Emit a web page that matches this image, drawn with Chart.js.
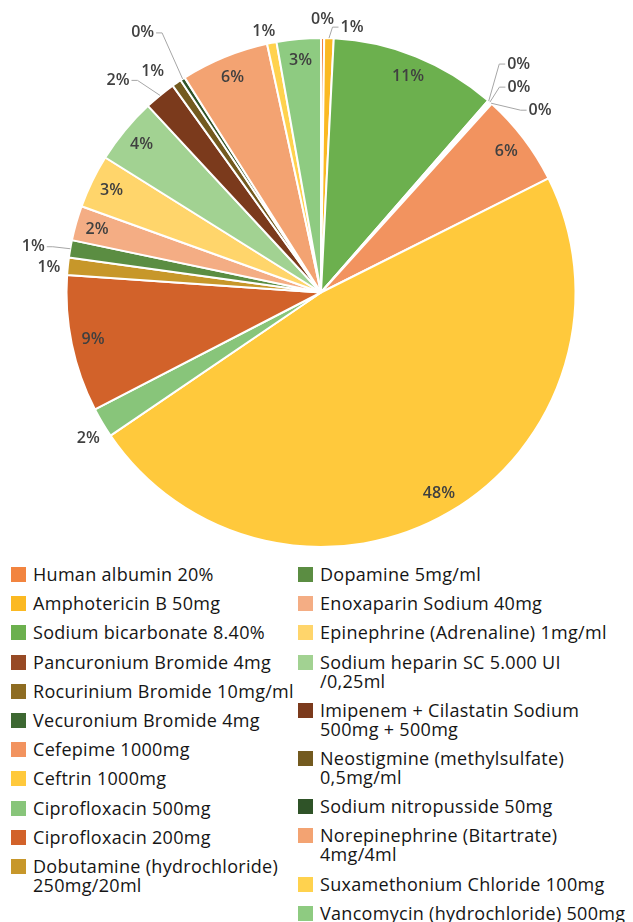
<!DOCTYPE html>
<html>
<head>
<meta charset="utf-8">
<title>Medication share</title>
<script src="https://cdn.jsdelivr.net/npm/chart.js@4.4.0/dist/chart.umd.min.js"></script>
<style>
    html, body { margin: 0; padding: 0; background: #fff; }
    #page { position: relative; width: 633px; height: 922px; overflow: hidden; }
    #chartBox { position: absolute; left: 0; top: 0; width: 633px; height: 556px; }
    .legend-col {
        position: absolute;
        top: 565px;
        font-family: "Open Sans", sans-serif;
        font-size: 18px;
        letter-spacing: 0.3px;
        line-height: 19px;
        color: #151515;
        white-space: nowrap;
    }
    .legend-item { display: flex; align-items: flex-start; margin-bottom: 10.2px; }
    .swatch { width: 15px; height: 15px; flex: none; margin-top: 2px; margin-right: 7px; }
</style>
</head>
<body>
<div id="page">
    <div id="chartBox"><canvas id="pieChart"></canvas></div>
    <div id="legendLeft" class="legend-col" style="left:11px"></div>
    <div id="legendRight" class="legend-col" style="left:298px"></div>
</div>
<script>
// Share of each medication (%)
const categories = [
    'Human albumin 20%',
    'Amphotericin B 50mg',
    'Sodium bicarbonate 8.40%',
    'Pancuronium Bromide 4mg',
    'Rocurinium Bromide 10mg/ml',
    'Vecuronium Bromide 4mg',
    'Cefepime 1000mg',
    'Ceftrin 1000mg',
    'Ciprofloxacin 500mg',
    'Ciprofloxacin 200mg',
    ['Dobutamine (hydrochloride)', '250mg/20ml'],
    'Dopamine 5mg/ml',
    'Enoxaparin Sodium 40mg',
    'Epinephrine (Adrenaline) 1mg/ml',
    ['Sodium heparin SC 5.000 UI', '/0,25ml'],
    ['Imipenem + Cilastatin Sodium', '500mg + 500mg'],
    ['Neostigmine (methylsulfate)', '0,5mg/ml'],
    'Sodium nitropusside 50mg',
    ['Norepinephrine (Bitartrate)', '4mg/4ml'],
    'Suxamethonium Chloride 100mg',
    'Vancomycin (hydrochloride) 500mg'
];

const shares = [0.2, 0.6, 10.6, 0.1, 0.1, 0.1, 5.9, 47.9, 1.9, 8.7, 1.1,
                1.1, 2.2, 3.4, 4.2, 2.0, 0.6, 0.3, 5.6, 0.6, 2.8];

const sliceColors = [
    '#F2843F', '#FBB922', '#6CB04E', '#974A25', '#8E6C22', '#3D6832',
    '#F2935F', '#FFC93C', '#88C57A', '#D2622A', '#C7972A',
    '#5B8D42', '#F4AD84', '#FFD56B', '#A2D292', '#7B3A1C', '#735A1F',
    '#2F5328', '#F3A372', '#FFD24E', '#8ECB81'
];

// where each percent label goes: inside the slice, or pushed out from the rim (px)
const labelPlacement = [
    { out: [0, -19] },
    { out: [23, -11], line: true },
    { in: true },
    { out: [30, -37], line: true },
    { out: [29, -15], line: true },
    { out: [49, 7], line: true },
    { in: true },
    { in: true },
    { out: [-14, 16] },
    { in: true },
    { out: [-19, 1] },
    { out: [-37, -2], line: true },
    { in: true },
    { in: true },
    { in: true },
    { out: [-42, -15], line: true },
    { out: [-24, -11] },
    { out: [-40, -46], line: true },
    { in: true },
    { out: [-8, -11] },
    { in: true }
];

// Draw percent labels and leader lines
const sliceLabels = {
    id: 'sliceLabels',
    afterDatasetsDraw(chart) {
        const ctx = chart.ctx;
        const meta = chart.getDatasetMeta(0);
        const total = shares.reduce((a, b) => a + b, 0);

        ctx.save();
        ctx.font = '600 16px "Open Sans"';
        ctx.fillStyle = '#404040';
        ctx.textAlign = 'center';
        ctx.textBaseline = 'middle';

        meta.data.forEach((arc, i) => {
            const p = arc.getProps(['x', 'y', 'startAngle', 'endAngle', 'outerRadius'], true);
            const mid = (p.startAngle + p.endAngle) / 2;
            const text = Math.round(shares[i] / total * 100) + '%';
            const place = labelPlacement[i];

            if (place.in) {
                const r = p.outerRadius * 0.915;
                ctx.fillText(text, p.x + Math.cos(mid) * r, p.y + Math.sin(mid) * r);
                return;
            }

            const ax = p.x + Math.cos(mid) * p.outerRadius;
            const ay = p.y + Math.sin(mid) * p.outerRadius;
            const lx = ax + place.out[0];
            const ly = ay + place.out[1];

            if (place.line) {
                const half = ctx.measureText(text).width / 2 + 2;
                const edge = place.out[0] >= 0 ? lx - half : lx + half;
                const dir = place.out[0] >= 0 ? -1 : 1;
                ctx.beginPath();
                ctx.strokeStyle = '#a6a6a6';
                ctx.lineWidth = 1;
                ctx.moveTo(ax, ay);
                ctx.lineTo(edge + dir * 6, ly);
                ctx.lineTo(edge, ly);
                ctx.stroke();
            }
            ctx.fillText(text, lx, ly);
        });
        ctx.restore();
    }
};

const pieChart = new Chart(document.getElementById('pieChart'), {
    type: 'pie',
    data: {
        labels: categories,
        datasets: [{
            data: shares,
            backgroundColor: sliceColors,
            borderColor: '#ffffff',
            borderWidth: 2
        }]
    },
    options: {
        responsive: true,
        maintainAspectRatio: false,
        animation: false,
        layout: { padding: { top: 37, bottom: 8, left: 9, right: 0 } },
        plugins: {
            legend: { display: false },
            tooltip: { enabled: false }
        }
    },
    plugins: [sliceLabels]
});

// Build the two-column legend from the chart data
function buildLegend(chart) {
    const labels = chart.data.labels;
    const colors = chart.data.datasets[0].backgroundColor;
    const split = Math.ceil(labels.length / 2);

    const itemHtml = (label, color) => `
        <div class="legend-item">
            <span class="swatch" style="background:${color}"></span>
            <span>${Array.isArray(label) ? label.join('<br>') : label}</span>
        </div>`;

    document.getElementById('legendLeft').innerHTML =
        labels.slice(0, split).map((l, i) => itemHtml(l, colors[i])).join('');
    document.getElementById('legendRight').innerHTML =
        labels.slice(split).map((l, i) => itemHtml(l, colors[split + i])).join('');
}

buildLegend(pieChart);
</script>
</body>
</html>
